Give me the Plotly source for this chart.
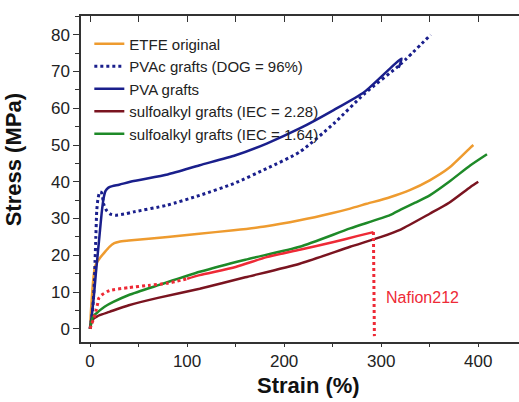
import plotly.graph_objects as go

# ---- data (strain %, stress MPa) ----
etfe_x = [0, 1, 2, 3, 4, 5, 7, 10, 15, 20, 25, 30, 40, 80, 110, 148, 180, 216, 250, 268, 285, 309, 330, 350, 370, 392, 395]
etfe_y = [0, 5, 9, 12.5, 15, 16.8, 18, 19.2, 20.8, 22.3, 23.3, 23.7, 24, 25, 25.8, 26.8, 27.8, 29.5, 31.5, 32.7, 34, 35.8, 37.8, 40.4, 43.8, 49.3, 50]

pvac_x = [0, 2, 3.4, 4.5, 5.2, 6, 6.9, 8, 10, 12, 14, 17, 21, 26, 35, 45, 79, 113, 148, 182, 216, 251, 283, 320, 351]
pvac_y = [0, 3.5, 7.8, 13, 18.6, 25, 32, 35, 37.2, 37, 34, 32.2, 31.2, 30.9, 31.2, 31.8, 33.6, 36.3, 39.5, 43.6, 48.1, 55.8, 64, 72, 80]

pva_x = [0, 2, 4, 6, 8, 10, 12, 14, 16, 19, 23, 30, 45, 80, 113, 150, 182, 216, 251, 283, 321, 318]
pva_y = [0, 4, 9, 15, 20.5, 26, 31.5, 35.5, 37.5, 38.4, 38.8, 39.2, 40.2, 42, 44.5, 47.2, 50.4, 54.5, 59.5, 64.5, 73.5, 71]

s228_x = [0, 1, 2, 4, 7, 10, 20, 40, 70, 113, 160, 216, 268, 300, 320, 350, 370, 392, 400]
s228_y = [0, 1.2, 2, 2.8, 3.3, 3.7, 4.6, 6.4, 8.4, 10.9, 14, 17.7, 22.3, 25, 27, 31.3, 34.3, 38.6, 40]

s164_x = [0, 1, 2, 4, 7, 10, 15, 24, 40, 72, 113, 160, 216, 268, 309, 320, 335, 350, 370, 392, 409]
s164_y = [0, 1.5, 2.6, 3.6, 4.3, 5, 6, 7.3, 9.2, 12, 15.5, 18.8, 22.3, 27.3, 30.9, 32.4, 34.3, 36.3, 40, 44.5, 47.5]

naf_dot_x = [0, 2, 4, 6, 8, 9, 12, 20, 40, 60, 80, 100]
naf_dot_y = [0, 1.5, 3, 4.8, 7, 8.3, 9.2, 10.4, 11.2, 11.8, 12.4, 13.6]
naf_sol_x = [100, 113, 150, 182, 216, 251, 275, 292]
naf_sol_y = [13.6, 14.6, 16.8, 19.5, 21.5, 23.6, 25.2, 26.3]
naf_drop_x = [292, 293]
naf_drop_y = [26.3, -2]

x_ticks = [0, 100, 200, 300, 400]
y_ticks = [0, 10, 20, 30, 40, 50, 60, 70, 80]

ORANGE = "#EE9B2F"
NAVY = "#1A1F8C"
DRED = "#7A1420"
GREEN = "#1E8A28"
RED = "#EE2A36"

SM = 0.6

fig = go.Figure()
fig.add_trace(go.Scatter(x=etfe_x, y=etfe_y, mode="lines", name="ETFE original",
                         line=dict(color=ORANGE, width=2.5, shape="spline", smoothing=SM)))
fig.add_trace(go.Scatter(x=pvac_x, y=pvac_y, mode="lines", name="PVAc grafts (DOG = 96%)",
                         line=dict(color=NAVY, width=3, dash="dot", shape="spline", smoothing=SM)))
fig.add_trace(go.Scatter(x=pva_x, y=pva_y, mode="lines", name="PVA grafts",
                         line=dict(color=NAVY, width=2.5, shape="spline", smoothing=SM)))
fig.add_trace(go.Scatter(x=s228_x, y=s228_y, mode="lines", name="sulfoalkyl grafts (IEC = 2.28)",
                         line=dict(color=DRED, width=2.5, shape="spline", smoothing=SM)))
fig.add_trace(go.Scatter(x=s164_x, y=s164_y, mode="lines", name="sulfoalkyl grafts (IEC = 1.64)",
                         line=dict(color=GREEN, width=2.5, shape="spline", smoothing=SM)))
fig.add_trace(go.Scatter(x=naf_dot_x, y=naf_dot_y, mode="lines", showlegend=False,
                         line=dict(color=RED, width=3, dash="dot", shape="spline", smoothing=SM)))
fig.add_trace(go.Scatter(x=naf_sol_x, y=naf_sol_y, mode="lines", showlegend=False,
                         line=dict(color=RED, width=2.5, shape="spline", smoothing=SM)))
fig.add_trace(go.Scatter(x=naf_drop_x, y=naf_drop_y, mode="lines", showlegend=False,
                         line=dict(color=RED, width=3, dash="dot")))
# dummy trace for the top axis
fig.add_trace(go.Scatter(x=[None], y=[None], xaxis="x2", showlegend=False, hoverinfo="skip"))

tickfont = dict(family="Liberation Sans, Arial, sans-serif", size=17, color="#222")

fig.update_layout(
    width=519, height=402,
    margin=dict(l=81, r=0, t=16, b=60),
    paper_bgcolor="white", plot_bgcolor="white",
    font=dict(family="Liberation Sans, Arial, sans-serif", color="#222"),
    xaxis=dict(range=[-9.3, 442], tickvals=x_ticks, ticks="outside", ticklen=3, tickwidth=1.2,
               tickcolor="#333", showline=True, linecolor="#333", linewidth=1.5,
               showgrid=False, zeroline=False, tickfont=tickfont,
               minor=dict(dtick=50, tick0=0, ticks="outside", ticklen=3, tickcolor="#333")),
    xaxis2=dict(range=[-9.3, 442], overlaying="x", side="top", tickvals=x_ticks,
                ticks="inside", ticklen=6, tickwidth=1.2, tickcolor="#333",
                showline=True, linecolor="#333", linewidth=1.5, showticklabels=False,
                showgrid=False, zeroline=False,
                minor=dict(dtick=50, tick0=0, ticks="inside", ticklen=6, tickcolor="#333")),
    yaxis=dict(range=[-3.6, 85.1], tickvals=y_ticks, ticks="outside", ticklen=6, tickwidth=1.2,
               tickcolor="#333", showline=True, linecolor="#333", linewidth=1.5,
               showgrid=False, zeroline=False, tickfont=tickfont,
               minor=dict(dtick=5, tick0=0, ticks="outside", ticklen=4, tickcolor="#333")),
    legend=dict(x=0.019, y=0.965, xanchor="left", yanchor="top", bgcolor="rgba(0,0,0,0)",
                font=dict(size=15, color="#222"), tracegroupgap=0),
    showlegend=True,
)

fig.add_annotation(text="Strain (%)", xref="paper", yref="paper", x=0.5205, y=0,
                   yshift=-43, showarrow=False, xanchor="center", yanchor="middle",
                   font=dict(size=22, color="#111", family="Liberation Sans, Arial, sans-serif", weight="bold"))
fig.add_annotation(text="Stress (MPa)", xref="paper", yref="paper", x=0, xshift=-68,
                   y=(341.7 - 160) / 326, showarrow=False, textangle=-90,
                   xanchor="center", yanchor="middle",
                   font=dict(size=22, color="#111", family="Liberation Sans, Arial, sans-serif", weight="bold"))
fig.add_annotation(text="Nafion212", x=303, y=8.5, xref="x", yref="y", showarrow=False,
                   xanchor="left", yanchor="middle",
                   font=dict(size=16, color=RED, family="Liberation Sans, Arial, sans-serif"))

fig.write_html("out.html")
